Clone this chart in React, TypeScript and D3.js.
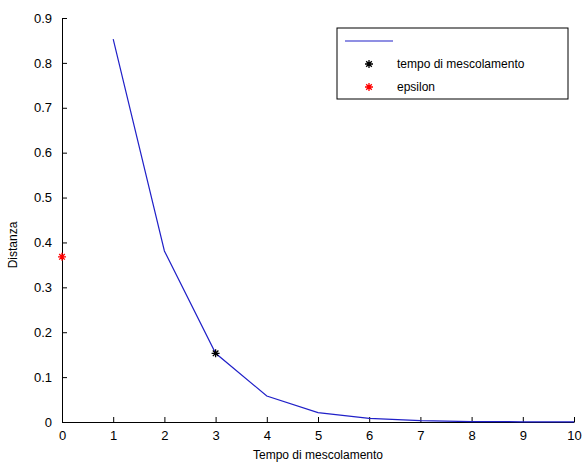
import React, { useRef, useEffect } from "react";
import * as d3 from "d3";

// mixing time curve
const steps = [1, 2, 3, 4, 5, 6, 7, 8, 9, 10];
const distances = [0.853, 0.381, 0.153, 0.058, 0.021, 0.008, 0.003, 0.001, 0.0005, 0.0002];
const mixingPoint = [3, 0.153];
const epsilonPoint = [0, 0.368];
const xTicks = [0, 1, 2, 3, 4, 5, 6, 7, 8, 9, 10];
const yTicks = [0, 0.1, 0.2, 0.3, 0.4, 0.5, 0.6, 0.7, 0.8, 0.9];
const legendLabels = ["", "tempo di mescolamento", "epsilon"];

const W = 584;
const H = 465;
const left = 62;
const right = 574;
const top = 18;
const bottom = 422;
const font = "Liberation Sans, Arial, sans-serif";

const starPath = (s: number) =>
  `M${-s},0L${s},0M0,${-s}L0,${s}M${-s * 0.7},${-s * 0.7}L${s * 0.7},${s * 0.7}M${-s * 0.7},${s * 0.7}L${s * 0.7},${-s * 0.7}`;

const App = () => {
  const svgRef = useRef<SVGSVGElement>(null);

  useEffect(() => {
    const svg = d3.select(svgRef.current);
    svg.selectAll("*").remove();

    const x = d3.scaleLinear().domain([0, 10]).range([left, right]);
    const y = d3.scaleLinear().domain([0, 0.9]).range([bottom, top]);

    svg.append("rect").attr("width", W).attr("height", H).attr("fill", "white");

    const xAxis = svg.append("g")
      .attr("transform", `translate(0, ${bottom})`)
      .call(d3.axisBottom(x).tickValues(xTicks).tickSizeInner(-5).tickSizeOuter(0).tickPadding(9).tickFormat(d3.format("d")));
    const yAxis = svg.append("g")
      .attr("transform", `translate(${left}, 0)`)
      .call(d3.axisLeft(y).tickValues(yTicks).tickSizeInner(-5).tickSizeOuter(0).tickPadding(10).tickFormat(d => d === 0 ? "0" : d3.format(".1f")(d as number)));

    [xAxis, yAxis].forEach(a => {
      a.selectAll("text").attr("font-family", font).attr("font-size", 13).attr("fill", "#000");
      a.selectAll("line").attr("stroke", "#000");
      a.select(".domain").attr("stroke", "#000");
    });

    const line = d3.line<number>()
      .x((_, i) => x(steps[i]))
      .y(d => y(d));

    svg.append("path")
      .datum(distances)
      .attr("d", line)
      .attr("fill", "none")
      .attr("stroke", "#2020c8")
      .attr("stroke-width", 1.2);

    svg.append("path")
      .attr("d", starPath(4))
      .attr("transform", `translate(${x(mixingPoint[0])}, ${y(mixingPoint[1])})`)
      .attr("stroke", "#000")
      .attr("stroke-width", 1.3);
    svg.append("path")
      .attr("d", starPath(4))
      .attr("transform", `translate(${x(epsilonPoint[0])}, ${y(epsilonPoint[1])})`)
      .attr("stroke", "#ff0000")
      .attr("stroke-width", 1.3);

    // legend
    const lg = svg.append("g").attr("transform", "translate(337, 28)");
    lg.append("rect").attr("width", 231).attr("height", 71).attr("fill", "white").attr("stroke", "#000");
    lg.append("line").attr("x1", 8).attr("x2", 56).attr("y1", 13).attr("y2", 13).attr("stroke", "#2020c8").attr("stroke-width", 1.2);
    const colors = ["#000", "#ff0000"];
    legendLabels.slice(1).forEach((t, i) => {
      const cy = 36 + i * 23;
      lg.append("path").attr("d", starPath(4)).attr("transform", `translate(32, ${cy})`).attr("stroke", colors[i]).attr("stroke-width", 1.3);
      lg.append("text").attr("x", 60).attr("y", cy + 4).attr("font-family", font).attr("font-size", 12).text(t);
    });

    svg.append("text")
      .attr("x", (left + right) / 2)
      .attr("y", 459)
      .attr("text-anchor", "middle")
      .attr("font-family", font)
      .attr("font-size", 12)
      .text("Tempo di mescolamento");
    svg.append("text")
      .attr("transform", `translate(17, ${(top + bottom) / 2 + 25}) rotate(-90)`)
      .attr("text-anchor", "middle")
      .attr("font-family", font)
      .attr("font-size", 12)
      .text("Distanza");
  }, []);

  return <svg ref={svgRef} width={W} height={H} style={{ position: "absolute", left: 0, top: 0 }}></svg>;
};

export default App;
